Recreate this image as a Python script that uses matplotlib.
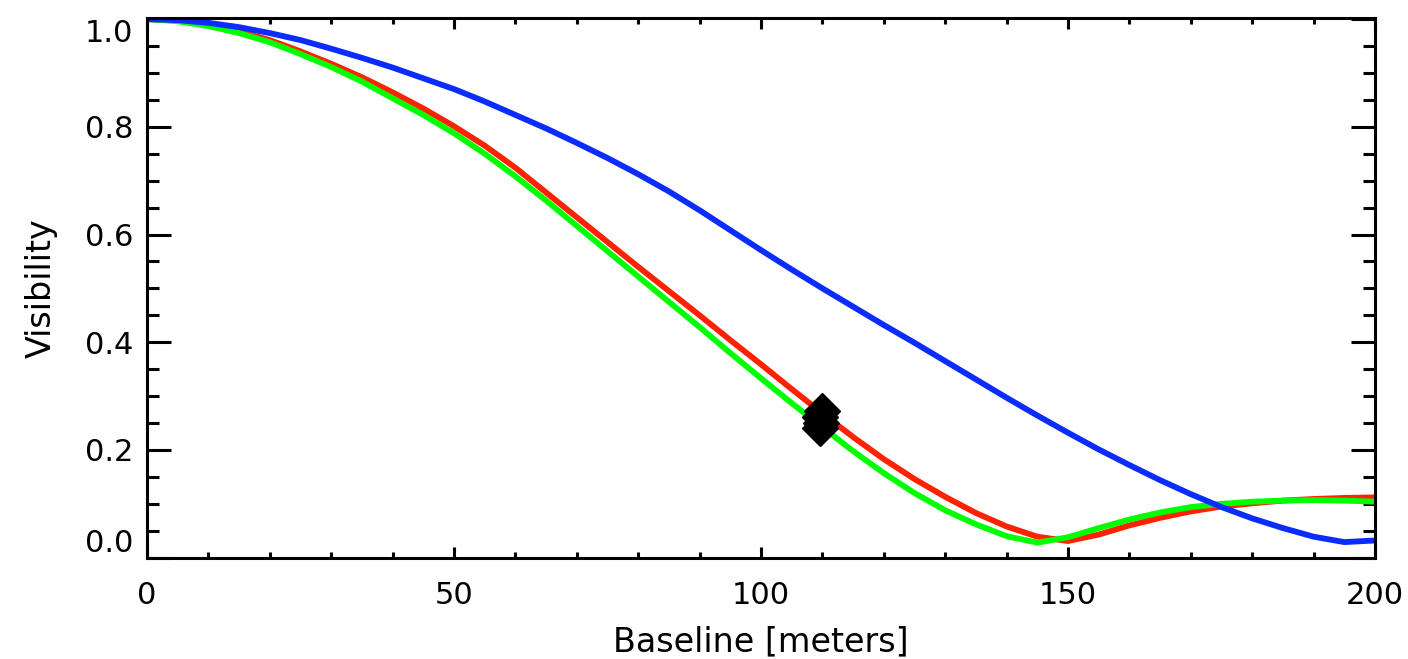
import matplotlib
matplotlib.use("Agg")
import numpy as np
import matplotlib.pyplot as plt
from matplotlib.ticker import MultipleLocator

# Baseline samples [m] and visibility values
baseline = [0, 5, 10, 15, 20, 25, 30, 35, 40, 45, 50, 55, 60, 65, 70, 75, 80,
            85, 90, 95, 100, 105, 110, 115, 120, 125, 130, 135, 140, 145, 150,
            155, 160, 165, 170, 175, 180, 185, 190, 195, 200]

vis_red = [1.000, 0.997, 0.989, 0.977, 0.961, 0.940, 0.917, 0.892, 0.864, 0.834,
           0.801, 0.765, 0.724, 0.678, 0.632, 0.586, 0.540, 0.495, 0.450, 0.404,
           0.359, 0.313, 0.268, 0.224, 0.183, 0.146, 0.113, 0.083, 0.058, 0.039,
           0.031, 0.043, 0.060, 0.074, 0.086, 0.095, 0.101, 0.106, 0.109, 0.111,
           0.112]
vis_green = [1.000, 0.996, 0.987, 0.974, 0.957, 0.935, 0.911, 0.884, 0.853, 0.822,
             0.788, 0.750, 0.708, 0.663, 0.616, 0.569, 0.522, 0.475, 0.428, 0.380,
             0.333, 0.287, 0.242, 0.198, 0.157, 0.120, 0.088, 0.062, 0.040, 0.028,
             0.038, 0.055, 0.071, 0.084, 0.094, 0.100, 0.104, 0.106, 0.107, 0.106,
             0.104]
vis_blue = [1.000, 0.998, 0.993, 0.985, 0.974, 0.961, 0.945, 0.928, 0.910, 0.890,
            0.870, 0.847, 0.822, 0.797, 0.770, 0.742, 0.712, 0.680, 0.645, 0.608,
            0.571, 0.535, 0.500, 0.466, 0.432, 0.399, 0.365, 0.331, 0.297, 0.264,
            0.232, 0.201, 0.172, 0.144, 0.118, 0.094, 0.073, 0.055, 0.039, 0.029,
            0.032]

# measured points (black diamonds)
meas_b = [109.9, 109.6, 109.8, 109.6]
meas_v = [0.272, 0.262, 0.250, 0.240]

fig = plt.figure(figsize=(14.08, 6.59), dpi=100)
ax = fig.add_axes([0.1044, 0.1537, 0.8722, 0.819])

lw = 4.2
ax.plot(baseline, vis_red, color="#ff2200", lw=lw, solid_joinstyle="round")
ax.plot(baseline, vis_green, color="#00ff00", lw=lw, solid_joinstyle="round")
ax.plot(baseline, vis_blue, color="#0a2cff", lw=lw, solid_joinstyle="round")
ax.plot(meas_b, meas_v, "D", color="black", ms=18, ls="none")

ax.set_xlim(0, 200)
ax.set_ylim(0, 1.002)
ax.set_xticks([0, 50, 100, 150, 200])
ax.set_yticks([0.0, 0.2, 0.4, 0.6, 0.8, 1.0])
ax.set_yticklabels(["0.0", "0.2", "0.4", "0.6", "0.8", "1.0"])
ax.xaxis.set_minor_locator(MultipleLocator(10))
ax.yaxis.set_minor_locator(MultipleLocator(0.05))

for s in ax.spines.values():
    s.set_linewidth(2.2)

ax.tick_params(axis="both", which="both", direction="in", width=2.2,
               top=True, right=True, labelsize=22)
ax.tick_params(axis="x", which="major", length=8, pad=17)
ax.tick_params(axis="x", which="minor", length=4)
ax.tick_params(axis="y", which="major", length=17, pad=10)
ax.tick_params(axis="y", which="minor", length=8.5)

yt = ax.yaxis.get_major_ticks()
yt[0].label1.set_va("bottom")
yt[-1].label1.set_va("top")

ax.set_xlabel("Baseline [meters]", fontsize=24, labelpad=11)
ax.set_ylabel("Visibility", fontsize=24, labelpad=19)

fig.savefig("out.png", dpi=100)
